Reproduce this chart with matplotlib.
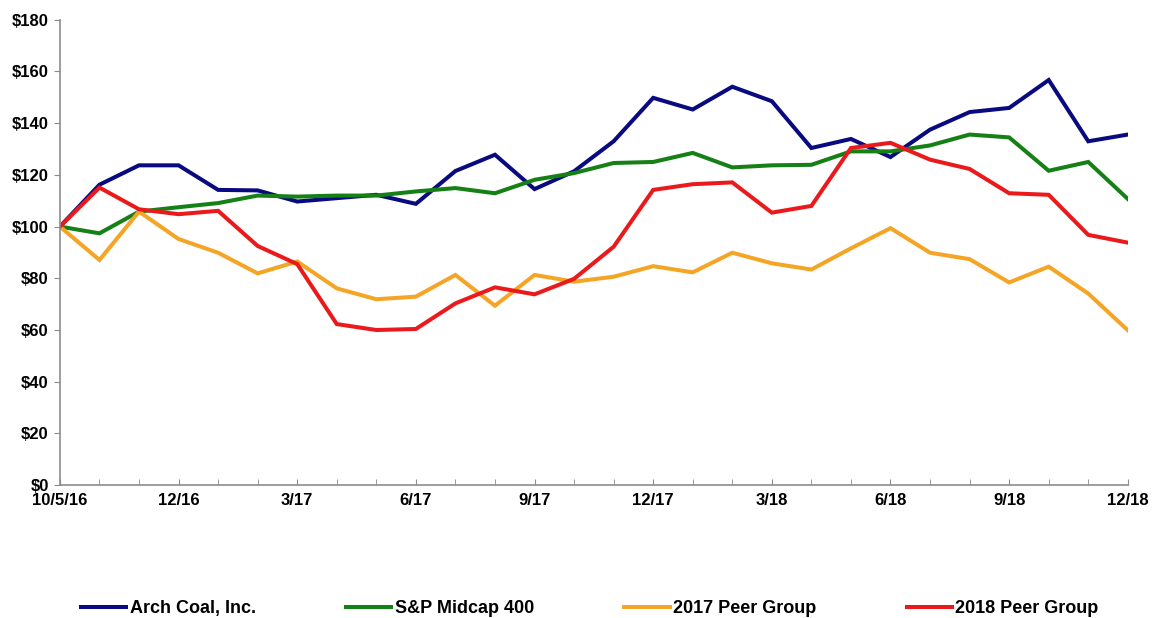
import matplotlib
matplotlib.use('Agg')
from matplotlib import rcParams
rcParams['font.family'] = ['Liberation Sans Narrow', 'Liberation Sans', 'DejaVu Sans']
rcParams['font.weight'] = 'bold'

import matplotlib.pyplot as plt
from matplotlib.ticker import FuncFormatter

# Month-end points from 10/5/16 to 12/31/18 (28 points)
tick_labels = ['10/5/16', '12/16', '3/17', '6/17', '9/17',
               '12/17', '3/18', '6/18', '9/18', '12/18']

arch_coal = [100, 116.2, 123.7, 123.7, 114.2, 114.0, 109.7, 111.0, 112.3, 108.8,
             121.5, 127.8, 114.5, 121.4, 133.0, 149.8, 145.3, 154.1, 148.5, 130.4,
             133.9, 126.9, 137.5, 144.3, 145.9, 156.7, 133.0, 135.6]
sp_midcap = [100, 97.4, 105.8, 107.5, 109.1, 112.0, 111.6, 112.0, 112.0, 113.6,
             114.9, 112.9, 118.1, 120.7, 124.6, 125.0, 128.5, 122.9, 123.7, 123.9,
             129.1, 129.1, 131.4, 135.6, 134.5, 121.6, 125.0, 110.7]
peer_2017 = [100, 87.1, 105.8, 95.2, 89.9, 81.9, 86.5, 76.1, 71.9, 72.9,
             81.3, 69.4, 81.3, 78.7, 80.6, 84.7, 82.3, 89.9, 85.8, 83.4,
             91.6, 99.4, 89.9, 87.4, 78.4, 84.5, 74.1, 59.9]
peer_2018 = [100, 115.1, 106.7, 104.8, 106.1, 92.5, 85.5, 62.3, 60.0, 60.4,
             70.3, 76.5, 73.8, 79.8, 92.2, 114.2, 116.4, 117.1, 105.4, 108.0,
             130.4, 132.4, 125.9, 122.3, 112.9, 112.3, 96.8, 93.8]

series = [
    ('Arch Coal, Inc.', arch_coal, '#0a0a80'),
    ('S&P Midcap 400', sp_midcap, '#158015'),
    ('2017 Peer Group', peer_2017, '#f5a525'),
    ('2018 Peer Group', peer_2018, '#ea1a1c'),
]


def main():
    fig = plt.figure(figsize=(11.52, 6.18), dpi=100)
    ax = fig.add_axes([0.052, 0.215, 0.927, 0.753])

    x = list(range(len(arch_coal)))
    for name, values, color in series:
        ax.plot(x, values, color=color, lw=2.9, label=name,
                solid_joinstyle='miter')

    # Axes setup
    ax.set_xlim(0, len(x) - 1)
    ax.set_ylim(0, 180)
    ax.set_yticks(range(0, 181, 20))
    ax.yaxis.set_major_formatter(FuncFormatter(lambda v, p: '$%d' % v))
    ax.set_xticks(range(0, len(x), 3))
    ax.set_xticklabels(tick_labels)
    ax.set_xticks(x, minor=True)

    for side in ['top', 'right']:
        ax.spines[side].set_visible(False)
    for side in ['left', 'bottom']:
        ax.spines[side].set_color('#8c8c8c')
        ax.spines[side].set_linewidth(1.2)

    ax.tick_params(axis='y', direction='out', length=4, color='#8c8c8c',
                   labelsize=12, pad=4)
    ax.tick_params(axis='x', which='both', direction='in', length=4,
                   color='#8c8c8c', labelsize=12, pad=6)

    # Legend below the plot
    fig.legend(loc='center', bbox_to_anchor=(0.512, 0.015), ncol=4,
               frameon=False, fontsize=13, handlelength=2.5,
               handletextpad=0.2, columnspacing=5.0)

    fig.savefig('out.png', dpi=100)


if __name__ == '__main__':
    main()
